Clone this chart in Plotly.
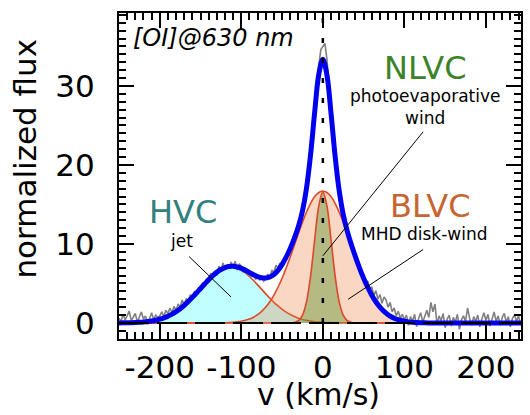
import numpy as np
import plotly.graph_objects as go

# ---------------- data ----------------
# model grid (km/s), 5 km/s steps
v_model = list(range(-250, 250, 5))

hvc = [0.01, 0.014, 0.023, 0.036, 0.055, 0.082, 0.121, 0.176, 0.25, 0.35,
       0.48, 0.65, 0.86, 1.12, 1.44, 1.81, 2.24, 2.71, 3.24, 3.79,
       4.36, 4.93, 5.48, 5.98, 6.41, 6.75, 6.98, 7.09, 7.08, 6.94,
       6.69, 6.33, 5.88, 5.37, 4.82, 4.25, 3.68, 3.13, 2.61, 2.15,
       1.73, 1.37, 1.07, 0.82, 0.61, 0.45, 0.33, 0.23, 0.16, 0.11,
       0.076, 0.05, 0.033, 0.021, 0.013, 0.008] + [0.0] * 44

blvc_half = [16.7, 16.52, 16.0, 15.15, 14.05, 12.75, 11.32, 9.83, 8.36, 6.95,
             5.66, 4.52, 3.52, 2.69, 2.01, 1.47, 1.05, 0.73, 0.5, 0.34,
             0.22, 0.14, 0.089, 0.055, 0.033, 0.019, 0.011, 0.006, 0.003]
blvc = [0.0] * 22 + blvc_half[::-1] + blvc_half[1:] + [0.0] * 21

nlvc_half = [16.6, 14.82, 10.55, 5.98, 2.71, 0.98, 0.28, 0.064, 0.012]
nlvc = [0.0] * 42 + nlvc_half[::-1] + nlvc_half[1:] + [0.0] * 41

# observed spectrum, 2.5 km/s steps from -250 to 245
flux_obs = [
    0.6, 0.2, 1.1, 0.4, 0.9, 1.5, 0.3, 0.8, 1.2, 0.1, 0.7, 1.4, 0.5, 0.9, -0.2, 0.6, 1.3, 0.4, 1.0, 0.7,
    0.9, 1.4, 0.8, 1.6, 1.2, 1.9, 1.3, 2.1, 1.6, 2.4, 2.0, 2.9, 2.3, 3.1, 2.8, 3.6, 3.2, 4.0, 3.7, 4.4,
    4.2, 5.1, 4.6, 5.6, 5.2, 6.3, 5.7, 6.6, 6.0, 7.2, 6.5, 7.6, 6.8, 7.4, 7.0, 7.7, 7.1, 7.8, 6.7, 7.5,
    7.2, 6.4, 7.0, 6.1, 6.6, 5.8, 6.3, 5.5, 6.0, 5.4, 5.9, 5.3, 5.6, 6.2, 5.6, 6.7, 6.4, 7.3, 7.0, 7.6,
    7.0, 8.2, 7.9, 9.3, 9.0, 10.6, 10.3, 11.9, 12.0, 13.6, 14.0, 16.1, 17.4, 19.6, 21.8, 24.6, 27.5, 30.2, 32.6, 34.6,
    35.0, 35.4, 33.4, 30.6, 27.4, 24.0, 21.0, 18.6, 16.7, 15.0, 13.8, 12.6, 11.6, 10.9, 10.3, 9.2, 8.6, 7.5, 7.3, 6.2,
    6.1, 5.0, 5.3, 4.2, 4.6, 3.5, 4.1, 3.0, 3.6, 2.5, 3.3, 2.9, 2.0, 2.6, 1.4, 1.9, 0.9, 1.5, 0.6, 1.1,
    0.4, 1.0, -0.3, 0.8, 0.2, 1.1, -0.5, 0.6, 1.3, 0.1, 0.9, 1.6, 0.7, 2.6, 1.4, 2.4, -0.2, 0.9, 0.3, 1.2,
    -0.6, 0.5, 1.0, -0.4, 0.7, 0.1, 1.1, -0.8, 0.4, 0.9, 0.2, 1.9, 0.6, -0.3, 0.8, 0.2, 1.0, -0.5, 0.5, 1.3,
    0.3, 1.1, -0.4, 0.6, 1.4, 0.2, 0.9, -0.3, 0.7, 1.2, 0.1, 0.8, -0.5, 0.6, 1.0, 0.2, 0.9, -0.2, 0.5,
]
v_obs = list(np.arange(-250, 245.01, 2.5))
assert len(v_obs) == len(flux_obs)
assert len(hvc) == len(blvc) == len(nlvc) == len(v_model)

total = list(np.array(hvc) + np.array(blvc) + np.array(nlvc))

x_range = [-250, 243]
y_range = [-2.03, 39.24]
x_ticks = [-200, -100, 0, 100, 200]
x_ticktext = ["-200", "-100", "0", "100", "200"]
y_ticks = [0, 10, 20, 30]

FONT = "DejaVu Sans"
RED = "#e0462a"

fig = go.Figure()

# filled components
fig.add_trace(go.Scatter(x=v_model, y=hvc, mode="lines", line=dict(color=RED, width=1.6, shape="spline"),
                         fill="tozeroy", fillcolor="rgba(0,255,255,0.25)", hoverinfo="skip"))
fig.add_trace(go.Scatter(x=v_model, y=blvc, mode="lines", line=dict(color=RED, width=1.6, shape="spline"),
                         fill="tozeroy", fillcolor="rgba(238,122,55,0.30)", hoverinfo="skip"))
fig.add_trace(go.Scatter(x=v_model, y=nlvc, mode="lines", line=dict(color=RED, width=1.6, shape="spline"),
                         fill="tozeroy", fillcolor="rgba(95,150,50,0.45)", hoverinfo="skip"))

# observed spectrum
fig.add_trace(go.Scatter(x=v_obs, y=flux_obs, mode="lines", line=dict(color="#808080", width=1.6),
                         hoverinfo="skip"))
# total fit
fig.add_trace(go.Scatter(x=v_model, y=total, mode="lines", line=dict(color="#0000ee", width=5, shape="spline"),
                         hoverinfo="skip"))

fig.update_layout(showlegend=False)

# baseline and systemic-velocity line
fig.add_shape(type="line", x0=x_range[0], x1=x_range[1], y0=0, y1=0,
              line=dict(color="black", width=2, dash="30px,8px"), layer="above")
fig.add_shape(type="line", x0=0, x1=0, y0=0, y1=y_range[1],
              line=dict(color="black", width=2.5, dash="5px,15px"), layer="above")

# pointer lines
for (xa, ya, xb, yb) in [(-164, 8.4, -112.6, 3.3), (123, 24.2, 0, 8.5), (123, 9.3, 31, 3.0)]:
    fig.add_shape(type="line", x0=xa, y0=ya, x1=xb, y1=yb, line=dict(color="black", width=1), layer="above")

def txt(x, y, s, size, color="black", xanchor="center"):
    fig.add_annotation(x=x, y=y, text=s, showarrow=False, xanchor=xanchor, yanchor="middle",
                       font=dict(family=FONT, size=size, color=color))

txt(-235.4, 36.1, "<i>[OI]@630 nm</i>", 24, xanchor="left")
txt(125.6, 32.3, "NLVC", 32, "#3c8228")
txt(125.6, 28.7, "photoevaporative", 17)
txt(125.6, 26.0, "wind", 17)
txt(131.7, 14.8, "BLVC", 32, "#c86432")
txt(124.4, 11.2, "MHD disk-wind", 17)
txt(-172, 14.1, "HVC", 32, "#338080")
txt(-173, 10.4, "jet", 17)

fig.add_annotation(xref="paper", yref="paper", x=-0.2327, y=0.555, text="normalized flux",
                   textangle=-90, showarrow=False, xanchor="center", yanchor="middle",
                   font=dict(family=FONT, size=31, color="black"))
fig.add_annotation(xref="paper", yref="paper", x=0.4975, y=-0.169, text="v (km/s)",
                   showarrow=False, xanchor="center", yanchor="middle",
                   font=dict(family=FONT, size=30, color="black"))

axis_common = dict(showline=True, linewidth=2, linecolor="black", mirror="allticks",
                   ticks="inside", ticklen=15, tickwidth=2, tickcolor="black",
                   showgrid=False, zeroline=False,
                   tickfont=dict(family=FONT, size=31, color="black"))
fig.update_xaxes(range=x_range, tickvals=x_ticks, ticktext=x_ticktext, tickangle=0,
                 ticklabelstandoff=0,
                 minor=dict(dtick=10, ticks="inside", ticklen=7, tickwidth=1.5, tickcolor="black"),
                 **axis_common)
fig.update_yaxes(range=y_range, tickvals=y_ticks, ticklabelstandoff=16,
                 minor=dict(dtick=1, ticks="inside", ticklen=7, tickwidth=1.5, tickcolor="black"),
                 **axis_common)

fig.update_layout(width=530, height=415, margin=dict(l=119, r=7, t=13, b=76),
                  paper_bgcolor="white", plot_bgcolor="white",
                  font=dict(family=FONT))

fig.write_html("out.html")
